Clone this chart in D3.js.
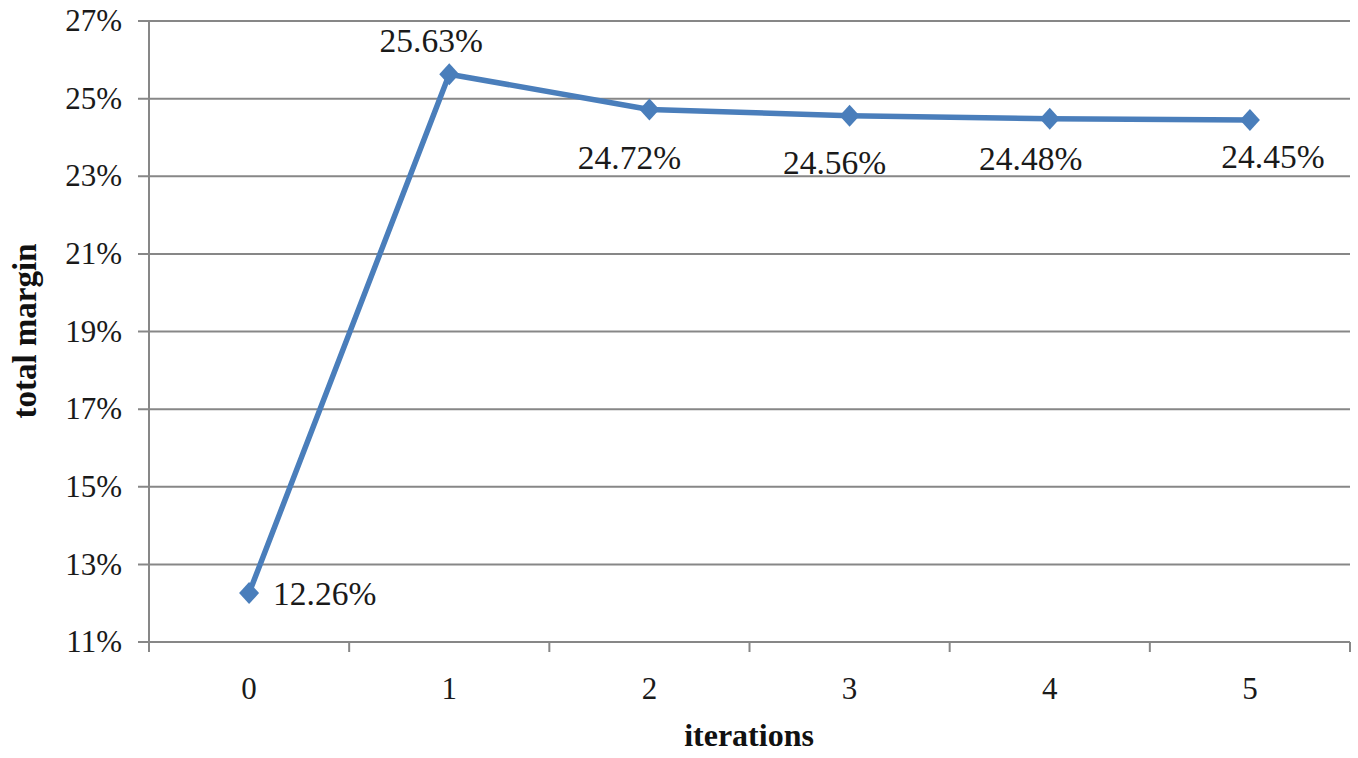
<!DOCTYPE html>
<html>
<head>
<meta charset="utf-8">
<script src="https://cdn.jsdelivr.net/npm/d3@7/dist/d3.min.js"></script>
<style>
  html, body { margin: 0; padding: 0; background: #fff; }
  svg { display: block; }
  svg text { font-family: "Liberation Serif", "Times New Roman", serif; }
</style>
</head>
<body>
<svg id="chart" width="1358" height="758"></svg>
<script>
// Total margin after each iteration
const iterations = ["0", "1", "2", "3", "4", "5"];
const margins = [12.26, 25.63, 24.72, 24.56, 24.48, 24.45];
const yTicks = [11, 13, 15, 17, 19, 21, 23, 25, 27];
const valueLabels = ["12.26%", "25.63%", "24.72%", "24.56%", "24.48%", "24.45%"];

const FONT = "Liberation Serif, Times New Roman, serif";
const svg = d3.select("#chart");
const plot = { left: 149, right: 1350, top: 21, bottom: 642 };

const x = d3.scaleBand().domain(iterations).range([plot.left, plot.right]).padding(0);
const y = d3.scaleLinear().domain([11, 27]).range([plot.bottom, plot.top]);

const gridColor = "#878787";
const lineColor = "#4a7ebb";

// horizontal gridlines (extend left past the axis as tick marks)
svg.append("g")
  .selectAll("line")
  .data(yTicks)
  .join("line")
  .attr("x1", plot.left - 11)
  .attr("x2", plot.right)
  .attr("y1", d => y(d))
  .attr("y2", d => y(d))
  .attr("stroke", gridColor)
  .attr("stroke-width", 2);

// y axis labels
svg.append("g")
  .selectAll("text")
  .data(yTicks)
  .join("text")
  .attr("x", 122)
  .attr("y", d => y(d))
  .attr("dy", "0.33em")
  .attr("text-anchor", "end")
  .attr("font-family", FONT)
  .attr("font-size", 31)
  .attr("fill", "#1a1a1a")
  .text(d => d + "%");

// y axis line
svg.append("line")
  .attr("x1", plot.left).attr("x2", plot.left)
  .attr("y1", plot.top).attr("y2", plot.bottom + 10)
  .attr("stroke", gridColor).attr("stroke-width", 2);

// x axis baseline, category boundary ticks and labels
const xg = svg.append("g").attr("transform", `translate(0,${plot.bottom})`);
xg.append("line")
  .attr("x1", plot.left).attr("x2", plot.right)
  .attr("stroke", gridColor).attr("stroke-width", 2);
const boundaries = iterations.map(d => x(d)).concat([x(iterations[iterations.length - 1]) + x.bandwidth()]);
xg.selectAll(".bt")
  .data(boundaries)
  .join("line")
  .attr("class", "bt")
  .attr("x1", d => d).attr("x2", d => d)
  .attr("y1", 0).attr("y2", 10)
  .attr("stroke", gridColor).attr("stroke-width", 2);
xg.selectAll(".xl")
  .data(iterations)
  .join("text")
  .attr("class", "xl")
  .attr("x", d => x(d) + x.bandwidth() / 2)
  .attr("y", 57)
  .attr("text-anchor", "middle")
  .attr("font-family", FONT)
  .attr("font-size", 31)
  .attr("fill", "#1a1a1a")
  .text(d => d);

// axis titles
svg.append("text")
  .attr("x", 749).attr("y", 746)
  .attr("text-anchor", "middle")
  .attr("font-family", FONT)
  .attr("font-size", 32)
  .attr("font-weight", "bold")
  .attr("fill", "#111")
  .text("iterations");

svg.append("text")
  .attr("transform", "translate(36,331) rotate(-90)")
  .attr("text-anchor", "middle")
  .attr("font-family", FONT)
  .attr("font-size", 33)
  .attr("font-weight", "bold")
  .attr("fill", "#111")
  .text("total margin");

// series line
const cx = (d, i) => x(iterations[i]) + x.bandwidth() / 2;
const line = d3.line()
  .x((d, i) => cx(d, i))
  .y(d => y(d));

svg.append("path")
  .datum(margins)
  .attr("d", line)
  .attr("fill", "none")
  .attr("stroke", lineColor)
  .attr("stroke-width", 5.5)
  .attr("stroke-linejoin", "round");

// diamond markers
svg.append("g")
  .selectAll("path")
  .data(margins)
  .join("path")
  .attr("transform", (d, i) => `translate(${cx(d, i)},${y(d)})`)
  .attr("d", "M0,-11L10,0L0,11L-10,0Z")
  .attr("fill", lineColor);

// value labels
const labelPos = [
  { dx: 24, dy: 12, anchor: "start" },
  { dx: -18, dy: -22, anchor: "middle" },
  { dx: -20, dy: 60, anchor: "middle" },
  { dx: -15, dy: 58, anchor: "middle" },
  { dx: -19, dy: 51, anchor: "middle" },
  { dx: 23, dy: 48, anchor: "middle" }
];
svg.append("g")
  .selectAll("text")
  .data(margins)
  .join("text")
  .attr("x", (d, i) => cx(d, i) + labelPos[i].dx)
  .attr("y", (d, i) => y(d) + labelPos[i].dy)
  .attr("text-anchor", (d, i) => labelPos[i].anchor)
  .attr("font-family", FONT)
  .attr("font-size", 33.5)
  .attr("fill", "#1a1a1a")
  .text((d, i) => valueLabels[i]);
</script>
</body>
</html>
